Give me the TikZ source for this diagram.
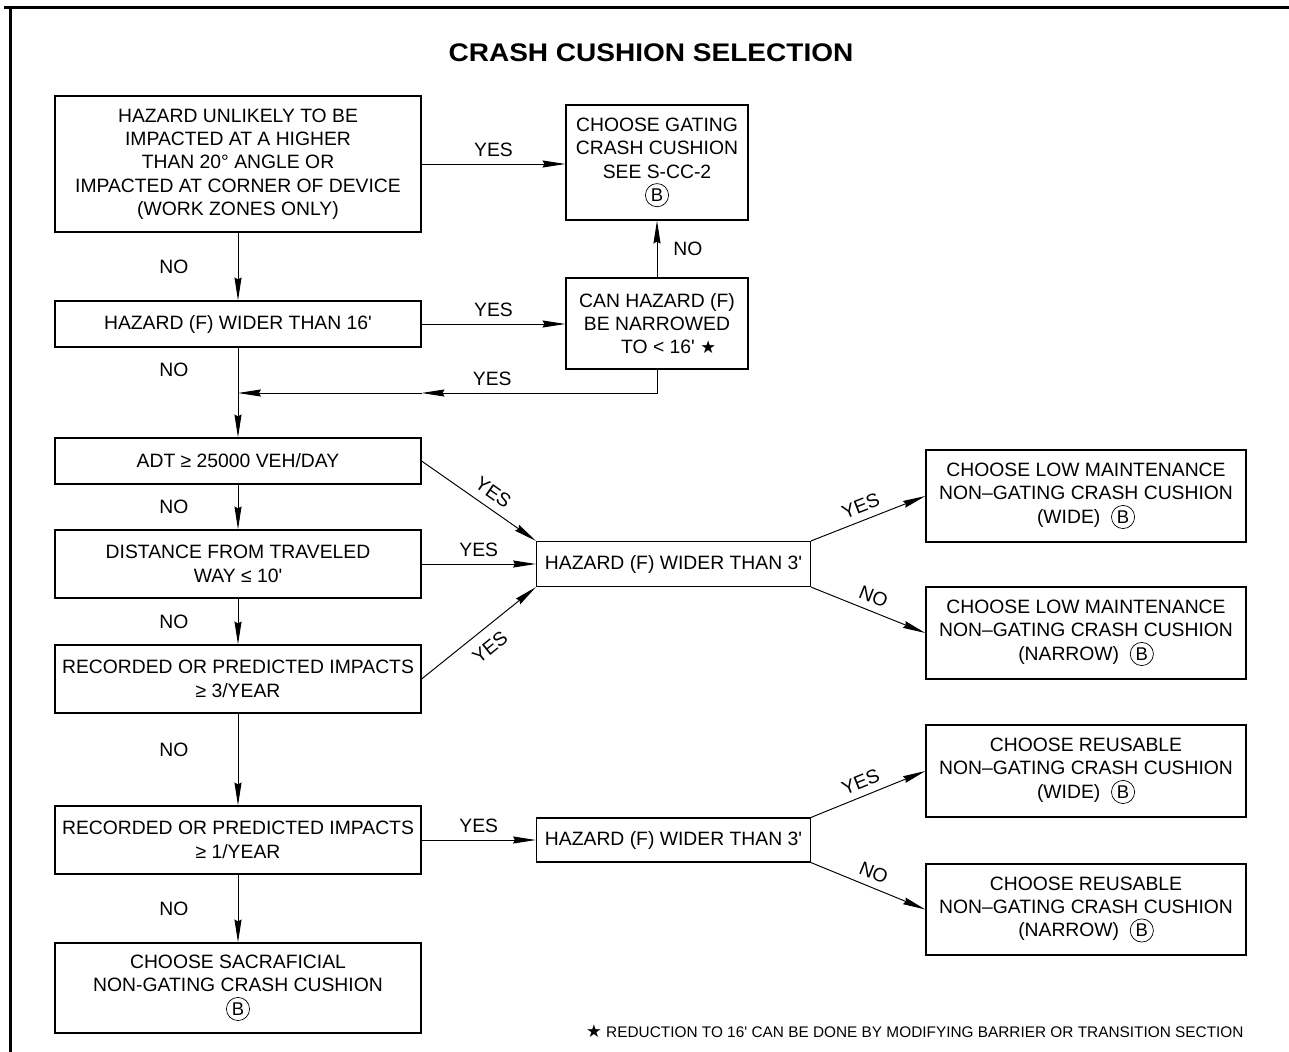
\documentclass[tikz,border=0pt]{standalone}
\usepackage{fontspec}
\setmainfont{Liberation Sans}
\newfontfamily\symfont{DejaVu Sans}
\usetikzlibrary{arrows.meta}
\newcommand{\ftmark}{\textquotesingle}
\newcommand{\starmark}{{\symfont\fontsize{10}{10}\selectfont ★}}
\newcommand{\circB}{\tikz[baseline=(cb.base)]\node[draw,circle,minimum width=0pt,minimum height=0pt,inner sep=1.1pt,line width=0.4pt,font=\fontsize{10.5}{11}\selectfont] (cb) {B};}
\tikzset{
  box/.style={draw,line width=0.7pt,align=center,inner sep=2pt,font=\fontsize{11}{13.3}\selectfont},
  flow/.style={line width=0.55pt,-{Stealth[length=13pt,width=4pt,inset=1pt]}},
  link/.style={line width=0.55pt},
  lab/.style={font=\fontsize{11}{13}\selectfont,inner sep=1pt},
}
\begin{document}
\begin{tikzpicture}[x=0.02cm,y=-0.02cm]
\useasboundingbox (0,0) rectangle (1289,1052);
\draw[line width=1.7pt] (4,7.5) -- (1289,7.5);
\draw[line width=2pt] (10.5,7.5) -- (10.5,1052);

\node[font=\bfseries\fontsize{14.5}{17}\selectfont,xscale=1.1] (title) at (651,53) {CRASH CUSHION SELECTION};

\node[box,minimum width=7.32cm,minimum height=2.72cm] (unlikely) at (238,164) {HAZARD UNLIKELY TO BE\\IMPACTED AT A HIGHER\\THAN 20° ANGLE OR\\IMPACTED AT CORNER OF DEVICE\\(WORK ZONES ONLY)};
\node[box,minimum width=3.64cm,minimum height=2.3cm] (gate) at (657,162.5) {CHOOSE GATING\\CRASH CUSHION\\SEE S-CC-2\\\circB};
\node[box,minimum width=7.32cm,minimum height=0.92cm] (wide16) at (238,324) {HAZARD (F) WIDER THAN 16\ftmark};
\node[box,minimum width=3.64cm,minimum height=1.82cm] (narrow) at (657,323.5) {CAN HAZARD (F)\\BE NARROWED\\\hspace{1.2em}TO < 16\ftmark\ \starmark};
\node[box,minimum width=7.32cm,minimum height=0.92cm] (adt) at (238,461) {ADT ≥ 25000 VEH/DAY};
\node[box,minimum width=7.32cm,minimum height=1.36cm] (dist) at (238,564) {DISTANCE FROM TRAVELED\\WAY ≤ 10\ftmark};
\node[box,minimum width=7.32cm,minimum height=1.36cm] (imp3) at (238,679) {RECORDED OR PREDICTED IMPACTS\\≥ 3/YEAR};
\node[box,minimum width=5.48cm,minimum height=0.9cm] (wide3a) at (673.5,564) {HAZARD (F) WIDER THAN 3\ftmark};
\node[box,minimum width=6.4cm,minimum height=1.84cm] (lmwide) at (1086,496) {CHOOSE LOW MAINTENANCE\\NON–GATING CRASH CUSHION\\(WIDE)\ \ \circB};
\node[box,minimum width=6.4cm,minimum height=1.84cm] (lmnarrow) at (1086,633) {CHOOSE LOW MAINTENANCE\\NON–GATING CRASH CUSHION\\(NARROW)\ \ \circB};
\node[box,minimum width=7.32cm,minimum height=1.36cm] (imp1) at (238,840) {RECORDED OR PREDICTED IMPACTS\\≥ 1/YEAR};
\node[box,minimum width=5.48cm,minimum height=0.88cm] (wide3b) at (673.5,840) {HAZARD (F) WIDER THAN 3\ftmark};
\node[box,minimum width=6.4cm,minimum height=1.84cm] (ruwide) at (1086,771) {CHOOSE REUSABLE\\NON–GATING CRASH CUSHION\\(WIDE)\ \ \circB};
\node[box,minimum width=6.4cm,minimum height=1.82cm] (runarrow) at (1086,909.5) {CHOOSE REUSABLE\\NON–GATING CRASH CUSHION\\(NARROW)\ \ \circB};
\node[box,minimum width=7.32cm,minimum height=1.8cm] (sacr) at (238,988) {CHOOSE SACRAFICIAL\\NON-GATING CRASH CUSHION\\\circB};

\node[font=\fontsize{8.75}{10}\selectfont,anchor=west] (note) at (580,1031) {\starmark\ REDUCTION TO 16\ftmark\ CAN BE DONE BY MODIFYING BARRIER OR TRANSITION SECTION};

\coordinate (backturn) at (narrow.south |- 0,393);
\coordinate (backmid) at (wide16.east |- backturn);
\coordinate (backjoin) at (wide16.south |- backturn);

\draw[flow] (unlikely.east) -- node[lab,above=3pt] {YES} (unlikely.east -| gate.west);
\draw[flow] (unlikely.south) -- node[lab,left=27pt] {NO} (wide16.north);
\draw[flow] (wide16.east) -- node[lab,above=3pt] {YES} (wide16.east -| narrow.west);
\draw[flow] (narrow.north) -- node[lab,right=8pt] {NO} (gate.south);
\draw[flow] (narrow.south) -- (backturn) -- node[lab,above=3pt,pos=0.7] {YES} (backmid);
\draw[flow] (backmid) -- (backjoin);
\draw[link] (wide16.south) -- node[lab,left=27pt] {NO} (backjoin);
\draw[flow] (backjoin) -- (adt.north);
\draw[flow] (adt.south) -- node[lab,left=27pt] {NO} (dist.north);
\draw[flow] (dist.south) -- node[lab,left=27pt] {NO} (imp3.north);
\draw[flow] (imp3.south) -- node[lab,left=27pt,pos=0.4] {NO} (imp1.north);
\draw[flow] (imp1.south) -- node[lab,left=27pt] {NO} (sacr.north);

\draw[flow] (adt.east) -- node[lab,sloped,above=3.5pt,pos=0.55] {YES} (wide3a.north west);
\draw[flow] (dist.east) -- node[lab,above=3pt] {YES} (dist.east -| wide3a.west);
\draw[flow] (imp3.east) -- node[lab,sloped,below=5pt,pos=0.5] {YES} (wide3a.south west);
\draw[flow] (wide3a.north east) -- node[lab,sloped,above=3pt,pos=0.48] {YES} (lmwide.west);
\draw[flow] (wide3a.south east) -- node[lab,sloped,above=3pt,pos=0.5] {NO} (lmnarrow.west);
\draw[flow] (imp1.east) -- node[lab,above=3pt] {YES} (imp1.east -| wide3b.west);
\draw[flow] (wide3b.north east) -- node[lab,sloped,above=3pt,pos=0.48] {YES} (ruwide.west);
\draw[flow] (wide3b.south east) -- node[lab,sloped,above=3pt,pos=0.5] {NO} (runarrow.west);
\end{tikzpicture}
\end{document}
